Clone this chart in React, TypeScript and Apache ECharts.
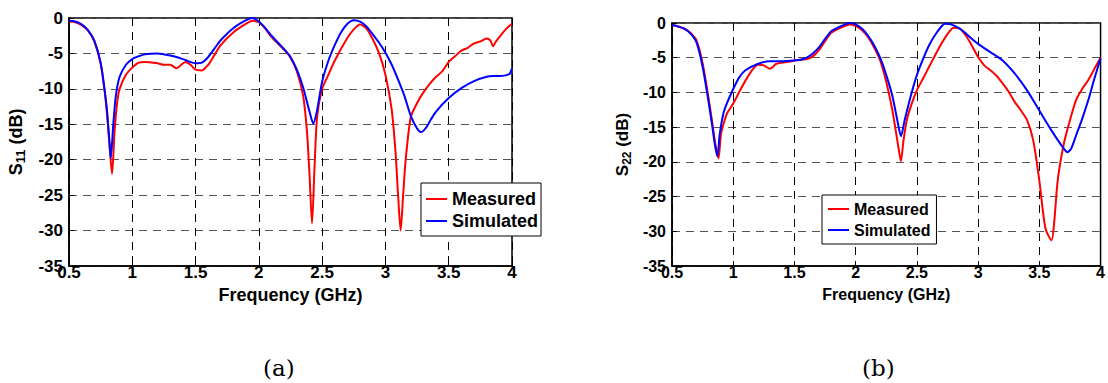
import React, { useEffect, useRef } from "react";
import * as echarts from "echarts";

// ---- Data (a) S11 ----
const aMeasFreq = [0.5, 0.55, 0.6, 0.65, 0.7, 0.75, 0.78, 0.8, 0.82, 0.84, 0.86, 0.88, 0.9, 0.95, 1.0, 1.05, 1.1, 1.2, 1.25, 1.3, 1.35, 1.38, 1.42, 1.46, 1.5, 1.55, 1.6, 1.65, 1.7, 1.8, 1.9, 1.95, 2.0, 2.05, 2.1, 2.2, 2.25, 2.3, 2.35, 2.38, 2.4, 2.42, 2.44, 2.46, 2.5, 2.55, 2.6, 2.7, 2.75, 2.8, 2.85, 2.9, 2.95, 3.0, 3.05, 3.08, 3.1, 3.12, 3.14, 3.16, 3.2, 3.25, 3.3, 3.35, 3.4, 3.45, 3.5, 3.55, 3.6, 3.65, 3.7, 3.75, 3.8, 3.83, 3.85, 3.87, 3.9, 3.95, 4.0];
const aMeasVal = [-0.5, -0.6, -1.0, -1.8, -3.3, -6.5, -10, -13.5, -18, -22, -16, -12, -10, -8, -7, -6.3, -6.2, -6.4, -6.6, -6.6, -7.1, -6.7, -6.2, -6.6, -7.3, -7.4, -6.6, -5.2, -3.8, -2.0, -0.8, -0.4, -0.6, -1.5, -2.7, -4.5, -5.6, -7.5, -11, -16, -22, -29, -21, -14, -10, -8, -6, -2.8, -1.6, -0.9, -1.5, -3, -5, -8, -13, -19, -25, -30, -25, -20, -14, -12, -10.5, -9.3, -8.3, -7.5, -6.2, -5.4, -4.6, -4.2, -3.6, -3.3, -2.9, -3.2, -4.0, -3.4, -2.7, -1.6, -0.8];
const aSimFreq = [0.5, 0.55, 0.6, 0.65, 0.7, 0.75, 0.78, 0.8, 0.82, 0.83, 0.85, 0.87, 0.9, 0.95, 1.0, 1.05, 1.1, 1.2, 1.3, 1.4, 1.5, 1.55, 1.6, 1.65, 1.7, 1.8, 1.9, 1.95, 2.0, 2.05, 2.1, 2.2, 2.25, 2.3, 2.35, 2.4, 2.43, 2.46, 2.5, 2.55, 2.6, 2.65, 2.7, 2.75, 2.8, 2.85, 2.9, 2.95, 3.0, 3.05, 3.1, 3.15, 3.2, 3.25, 3.28, 3.32, 3.36, 3.4, 3.5, 3.6, 3.7, 3.8, 3.85, 3.9, 3.95, 3.98, 4.0];
const aSimVal = [-0.4, -0.5, -0.9, -1.7, -3.2, -6.3, -10, -13, -17.5, -19.8, -15, -11, -8.3, -6.6, -5.8, -5.4, -5.1, -5.0, -5.3, -5.8, -6.4, -6.3, -5.5, -4.3, -3.1, -1.4, -0.3, 0, -0.5, -1.4, -2.5, -4.4, -5.5, -7.3, -9.8, -13.2, -14.9, -13, -9, -6, -3.8, -2.0, -0.8, -0.3, -0.5, -1.2, -2.3, -3.5, -4.9, -6.6, -8.7, -11, -13.8, -15.6, -16.1, -15.5, -14.3, -13.2, -11.3, -9.9, -8.9, -8.3, -8.2, -8.2, -8.1, -7.9, -7.1];

// ---- Data (b) S22 ----
const bMeasFreq = [0.5, 0.55, 0.6, 0.65, 0.7, 0.75, 0.8, 0.83, 0.85, 0.88, 0.9, 0.93, 0.95, 1.0, 1.05, 1.1, 1.15, 1.2, 1.25, 1.3, 1.35, 1.4, 1.45, 1.5, 1.55, 1.6, 1.65, 1.7, 1.75, 1.8, 1.85, 1.9, 1.95, 2.0, 2.05, 2.1, 2.15, 2.2, 2.25, 2.3, 2.33, 2.35, 2.37, 2.39, 2.42, 2.46, 2.5, 2.55, 2.6, 2.65, 2.7, 2.75, 2.8, 2.85, 2.9, 2.95, 3.0, 3.05, 3.1, 3.15, 3.2, 3.25, 3.3, 3.35, 3.4, 3.45, 3.5, 3.55, 3.6, 3.62, 3.65, 3.7, 3.75, 3.8, 3.85, 3.9, 3.95, 4.0];
const bMeasVal = [-0.3, -0.5, -0.8, -1.4, -2.5, -5.8, -11, -14.5, -17, -19.5, -16, -14, -13, -11.6, -9.9, -8.3, -6.9, -6.0, -6.1, -6.6, -5.9, -5.7, -5.6, -5.4, -5.3, -5.2, -4.8, -3.9, -2.6, -1.4, -0.9, -0.5, -0.2, -0.4, -1.0, -2.0, -3.5, -5.4, -8.5, -12.6, -15.8, -18, -19.9, -17, -13.8, -11.5, -9.7, -8, -6.3, -4.6, -3.0, -1.6, -0.7, -0.8, -1.8, -3.3, -4.9, -6.1, -6.8, -7.6, -8.7, -9.9, -11.4, -12.6, -14, -16.9, -22.7, -29.6, -31.3, -29, -22.7, -17.4, -14, -11.1, -9.5, -8.2, -6.6, -5.0];
const bSimFreq = [0.5, 0.55, 0.6, 0.65, 0.7, 0.75, 0.8, 0.83, 0.85, 0.87, 0.89, 0.92, 0.95, 1.0, 1.05, 1.1, 1.2, 1.3, 1.4, 1.5, 1.55, 1.6, 1.65, 1.7, 1.75, 1.8, 1.85, 1.9, 1.95, 2.0, 2.05, 2.1, 2.15, 2.2, 2.25, 2.3, 2.34, 2.37, 2.4, 2.45, 2.5, 2.55, 2.6, 2.65, 2.7, 2.73, 2.78, 2.85, 2.9, 2.95, 3.0, 3.1, 3.2, 3.3, 3.4, 3.5, 3.6, 3.7, 3.73, 3.76, 3.8, 3.85, 3.9, 3.95, 4.0];
const bSimVal = [-0.3, -0.5, -0.8, -1.5, -2.8, -6.3, -11.5, -15, -17.5, -19.2, -16, -13, -11.5, -9.5, -7.8, -6.8, -5.9, -5.5, -5.5, -5.4, -5.3, -5.0, -4.4, -3.5, -2.3, -1.2, -0.7, -0.3, 0, -0.2, -0.8, -1.8, -3.2, -5.0, -7.5, -10.5, -14, -16.3, -14, -10.5, -7.5, -5.2, -3.2, -1.7, -0.5, -0.1, -0.2, -0.8, -1.5, -2.3, -3.0, -4.2, -5.4, -7.3, -9.7, -12.6, -15.5, -18.1, -18.6, -18.1, -16.2, -13.8, -11.1, -8.0, -5.1];

const seriesNames = ["Measured", "Simulated"];
const captions = ["(a)", "(b)"];

const pairs = (f: number[], v: number[]) => f.map((x, i) => [x, v[i]]);

const FONT = "Liberation Sans, Arial, sans-serif";

function xAxis(gridIndex: number, fs: number, nfs: number, gap: number) {
  return {
    type: "value",
    gridIndex,
    min: 0.5,
    max: 4,
    interval: 0.5,
    name: "Frequency (GHz)",
    nameLocation: "middle",
    nameGap: gap,
    nameTextStyle: { fontFamily: FONT, fontWeight: "bold", fontSize: nfs, color: "#000" },
    axisLine: { show: true, onZero: false, lineStyle: { color: "#000", width: 1.5 } },
    axisTick: { show: true, inside: true, length: 5, lineStyle: { color: "#000" } },
    axisLabel: {
      margin: -2,
      fontFamily: FONT,
      fontWeight: "bold",
      fontSize: fs,
      color: "#000",
      formatter: (v: number) => String(v),
    },
    splitLine: { show: true, lineStyle: { color: "#000", type: [8, 6], width: 1 } },
  };
}

function yAxis(gridIndex: number, fs: number, nfs: number, sub: string, gap: number) {
  return {
    type: "value",
    gridIndex,
    min: -35,
    max: 0,
    interval: 5,
    name: "{m|S}{s|" + sub + "}{m| (dB)}",
    nameLocation: "middle",
    nameGap: gap,
    nameRotate: 90,
    nameTextStyle: {
      rich: {
        m: { fontFamily: FONT, fontWeight: "bold", fontSize: nfs, color: "#000" },
        s: { fontFamily: FONT, fontWeight: "bold", fontSize: Math.round(nfs * 0.72), color: "#000", verticalAlign: "bottom", padding: [Math.round(nfs * 0.55), 0, 0, 0] },
      },
    },
    axisLine: { show: true, onZero: false, lineStyle: { color: "#000", width: 1.5 } },
    axisTick: { show: true, inside: true, length: 5, lineStyle: { color: "#000" } },
    axisLabel: { margin: 6, fontFamily: FONT, fontWeight: "bold", fontSize: fs, color: "#000" },
    splitLine: { show: true, lineStyle: { color: "#555", type: [8, 6], width: 1 } },
  };
}

function line(name: string, data: number[][], color: string, idx: number) {
  return {
    type: "line",
    name,
    xAxisIndex: idx,
    yAxisIndex: idx,
    data,
    symbol: "none",
    smooth: 0.25,
    lineStyle: { color, width: 2 },
    itemStyle: { color },
  };
}

function legend(left: number, top: number, fs: number, gap: number, pad: number[]) {
  return {
    left,
    top,
    orient: "vertical",
    data: seriesNames,
    icon: "rect",
    itemWidth: 21,
    itemHeight: 2,
    itemGap: gap,
    padding: pad,
    borderColor: "#000",
    borderWidth: 1,
    backgroundColor: "#fff",
    textStyle: { fontFamily: FONT, fontWeight: "bold", fontSize: fs, color: "#000", lineHeight: fs + 2 },
    selectedMode: false,
  };
}

export default function App() {
  const ref = useRef<HTMLDivElement>(null);
  useEffect(() => {
    if (!ref.current) return;
    const chart = echarts.init(ref.current, null, { renderer: "svg" });
    chart.setOption({
      animation: false,
      backgroundColor: "#fff",
      grid: [
        { left: 69, top: 18, width: 443, height: 248, show: true, borderColor: "#000", borderWidth: 1.5, backgroundColor: "transparent" },
        { left: 672, top: 23, width: 433, height: 243, show: true, borderColor: "#000", borderWidth: 1.5, backgroundColor: "transparent" },
      ],
      xAxis: [xAxis(0, 17, 18, 20), xAxis(1, 16, 16, 20)],
      yAxis: [yAxis(0, 17, 18, "11", 42), yAxis(1, 16, 17, "22", 39)],
      legend: [legend(421, 183, 18, 2, [6, 3, 5, 5]), legend(822, 195, 16, 3, [5, 6, 5, 6])],
      series: [
        line(seriesNames[0], pairs(aMeasFreq, aMeasVal), "#ff0000", 0),
        line(seriesNames[1], pairs(aSimFreq, aSimVal), "#0000ff", 0),
        line(seriesNames[0], pairs(bMeasFreq, bMeasVal), "#ff0000", 1),
        line(seriesNames[1], pairs(bSimFreq, bSimVal), "#0000ff", 1),
      ],
      graphic: [
        { type: "text", left: 263, top: 356, style: { text: captions[0], font: "23px 'DejaVu Serif', serif", fill: "#000" } },
        { type: "text", left: 862, top: 356, style: { text: captions[1], font: "23px 'DejaVu Serif', serif", fill: "#000" } },
      ],
    });
    return () => chart.dispose();
  }, []);
  return <div ref={ref} style={{ position: "absolute", left: 0, top: 0, width: 1108, height: 383 }} />;
}
